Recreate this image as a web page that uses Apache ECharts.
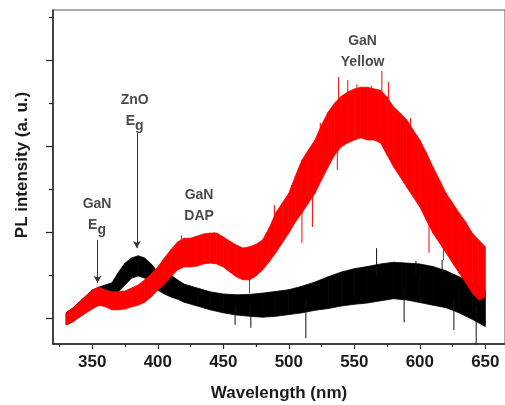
<!DOCTYPE html>
<html><head><meta charset="utf-8">
<script src="https://cdn.jsdelivr.net/npm/echarts@6/dist/echarts.min.js"></script>
<style>html,body{margin:0;padding:0;background:#fff}#c{width:505px;height:405px}</style>
</head><body><div id="c"></div>
<script>
// ---- data ----
const redWl = [330,335,340,345,350,355,360,365,370,375,380,385,390,395,400,405,410,415,420,425,430,435,440,445,450,455,460,465,470,475,480,485,490,495,500,505,510,515,520,525,530,535,540,545,550,555,560,565,570,575,580,585,590,595,600,605,610,615,620,625,630,635,640,645,650];
const redUpper = [0.12,0.23,0.37,0.51,0.65,0.72,0.65,0.61,0.61,0.63,0.70,0.77,0.89,1.03,1.19,1.40,1.59,1.77,1.86,1.86,1.91,1.96,1.98,1.98,1.89,1.79,1.70,1.63,1.66,1.72,1.82,2.10,2.45,2.68,2.91,3.31,3.68,3.92,4.15,4.50,4.80,5.01,5.17,5.27,5.34,5.38,5.38,5.34,5.31,5.15,4.92,4.78,4.62,4.38,4.15,3.85,3.52,3.22,2.91,2.68,2.45,2.24,1.98,1.82,1.66];
const redLower = [-0.16,-0.09,0.02,0.12,0.21,0.30,0.26,0.19,0.19,0.21,0.26,0.30,0.37,0.49,0.65,0.79,0.96,1.12,1.19,1.19,1.21,1.26,1.28,1.26,1.19,1.07,0.96,0.89,0.89,0.98,1.12,1.31,1.52,1.75,1.98,2.24,2.45,2.68,2.91,3.22,3.52,3.80,3.99,4.08,4.15,4.20,4.15,4.15,4.08,3.80,3.52,3.29,3.05,2.82,2.59,2.28,1.98,1.75,1.52,1.28,1.05,0.82,0.58,0.42,0.49];

const blackWl = [330,335,340,345,350,355,360,365,370,375,380,385,390,395,400,405,410,415,420,430,440,450,460,470,480,490,500,510,520,530,540,550,560,570,580,590,600,610,620,630,640,650];
const blackUpper = [0.12,0.23,0.37,0.51,0.65,0.72,0.77,0.82,1.07,1.28,1.40,1.45,1.40,1.26,1.07,0.98,1.00,0.89,0.79,0.70,0.61,0.56,0.54,0.55,0.58,0.62,0.66,0.74,0.84,0.96,1.07,1.15,1.20,1.26,1.30,1.28,1.26,1.20,1.10,0.96,0.82,0.65];
const blackLower = [-0.16,-0.09,0.02,0.12,0.23,0.30,0.37,0.47,0.61,0.77,0.93,0.98,0.93,0.79,0.65,0.56,0.49,0.44,0.37,0.28,0.19,0.12,0.07,0.04,0.02,0.04,0.08,0.12,0.18,0.22,0.28,0.32,0.35,0.40,0.45,0.42,0.36,0.30,0.24,0.12,-0.03,-0.20];

const redSpikeWl   = [418,443,489,502,516,524,538,545,552,563,571,576,587,593,470,510,518,537,607,618];
const redSpikeBase = [1.6,1.7,2.2,2.7,3.6,4.2,4.9,5.0,5.1,5.1,5.1,5.0,4.4,4.2,1.2,2.8,3.0,4.2,2.6,2.1];
const redSpikeTip  = [1.93,2.0,2.63,3.10,3.85,4.55,5.62,5.55,5.45,5.41,5.76,5.50,4.66,4.66,0.58,1.75,2.12,3.45,1.52,1.35];

const blackSpikeWl   = [567,597,617,513,588,643,459,471,626];
const blackSpikeBase = [1.0,1.0,1.0,0.4,0.7,0.3,0.3,0.3,0.4];
const blackSpikeTip  = [1.63,1.33,1.35,-0.47,-0.10,-0.65,-0.16,-0.23,-0.28];

const xMajorTicks = [350,400,450,500,550,600,650];
const xMinorTicks = [325,375,425,475,525,575,625];
const yMajorTicks = [0,2,4,6];
const yMinorTicks = [1,3,5,7];

// ---- build ----
function bandData(xs, lo, up){ return xs.map((x,i)=>[x, lo[i], up[i]]); }
function spikes(xs, base, tip){ const d=[]; xs.forEach((x,i)=>{ d.push([x, base[i]]); d.push([x, tip[i]]); d.push([x, '-']); }); return d; }
function bandSeries(data, color, z){
  return {
    type:'custom', z:z, silent:true, clip:true, data:data,
    renderItem:function(params, api){
      const i = params.dataIndex;
      if (i === 0) return null;
      const p = data[i-1], c = data[i];
      const pts = [api.coord([p[0], p[1]]), api.coord([c[0], c[1]]), api.coord([c[0], c[2]]), api.coord([p[0], p[2]])];
      return {type:'polygon', shape:{points:pts}, style:{fill:color, stroke:color, lineWidth:0.8}};
    },
    encode:{x:0, y:[1,2]}
  };
}

const FONT = '"Liberation Sans", Arial, sans-serif';
const X_MIN = 320, X_MAX = 665, Y_MIN = -0.606, Y_MAX = 7.18;

const chart = echarts.init(document.getElementById('c'), null, {renderer:'canvas'});
const tickLbl = {fontFamily: FONT, fontWeight:'bold', fontSize:17, color:'#1a1a1a'};
const richLbl = {
  b:{fontFamily:FONT, fontWeight:'bold', fontSize:14, color:'#1a1a1a', lineHeight:21},
  s:{fontFamily:FONT, fontWeight:'bold', fontSize:14, color:'#1a1a1a', lineHeight:21, padding:[9,0,0,0]}
};
chart.setOption({
  animation:false,
  backgroundColor:'#fff',
  grid:{left:53, top:10, width:456, height:334, show:true, borderColor:'#555', borderWidth:1, containLabel:false},
  xAxis:[
    {type:'value', min:X_MIN, max:X_MAX, position:'bottom',
     axisLine:{show:true, onZero:false, lineStyle:{color:'#222', width:1.5}},
     axisTick:{show:true, inside:false, length:5, customValues:xMajorTicks, lineStyle:{color:'#222', width:1.2}},
     axisLabel:{show:true, margin:10, customValues:xMajorTicks, ...tickLbl},
     splitLine:{show:false}},
    {type:'value', min:X_MIN, max:X_MAX, position:'bottom', gridIndex:0,
     axisLine:{show:false, onZero:false},
     axisTick:{show:true, inside:false, length:3, customValues:xMinorTicks, lineStyle:{color:'#222', width:1.2}},
     axisLabel:{show:false}, splitLine:{show:false}}
  ],
  yAxis:[
    {type:'value', min:Y_MIN, max:Y_MAX, position:'left',
     axisLine:{show:true, onZero:false, lineStyle:{color:'#222', width:1.5}},
     axisTick:{show:true, inside:false, length:7, customValues:yMajorTicks, lineStyle:{color:'#222', width:1.2}},
     axisLabel:{show:false}, splitLine:{show:false}},
    {type:'value', min:Y_MIN, max:Y_MAX, position:'left', gridIndex:0,
     axisLine:{show:false, onZero:false},
     axisTick:{show:true, inside:false, length:4, customValues:yMinorTicks, lineStyle:{color:'#222', width:1.2}},
     axisLabel:{show:false}, splitLine:{show:false}}
  ],
  graphic:[
    {type:'text', x:279, y:393, style:{text:'Wavelength (nm)', font:'bold 17px '+FONT, fill:'#1a1a1a', align:'center', verticalAlign:'middle'}},
    {type:'text', x:22, y:165, rotation:Math.PI/2, style:{text:'PL intensity (a. u.)', font:'bold 17px '+FONT, fill:'#1a1a1a', align:'center', verticalAlign:'middle'}}
  ],
  series:[
    bandSeries(bandData(blackWl, blackLower, blackUpper), '#000000', 2),
    {type:'line', data:spikes(blackSpikeWl, blackSpikeBase, blackSpikeTip), symbol:'none', connectNulls:false, lineStyle:{width:1, color:'#111'}, z:2, silent:true},
    bandSeries(bandData(redWl, redLower, redUpper), '#ff0000', 3),
    {type:'line', data:spikes(redSpikeWl, redSpikeBase, redSpikeTip), symbol:'none', connectNulls:false, lineStyle:{width:1, color:'#ff0000'}, z:3, silent:true},
    {type:'scatter', symbolSize:0, z:5, silent:true,
     label:{show:true, position:'inside', align:'center', verticalAlign:'middle', rich:richLbl},
     data:[
       {value:[556.3, 6.20], label:{formatter:'{b|GaN}\n{b|Yellow}'}},
       {value:[382.3, 4.83], label:{formatter:'{b|ZnO}\n{b|E}{s|g}'}},
       {value:[353.6, 2.40], label:{formatter:'{b|GaN}\n{b|E}{s|g}'}},
       {value:[431.5, 2.62], label:{formatter:'{b|GaN}\n{b|DAP}'}}
     ],
     markLine:{silent:true, symbol:['none','arrow'], symbolSize:[6,7], label:{show:false},
       lineStyle:{color:'#333', width:1, type:'solid'},
       data:[
         [{coord:[384, 4.31]},{coord:[384, 1.63]}],
         [{coord:[354, 1.82]},{coord:[354, 0.82]}]
       ]}
    }
  ]
});
</script></body></html>
